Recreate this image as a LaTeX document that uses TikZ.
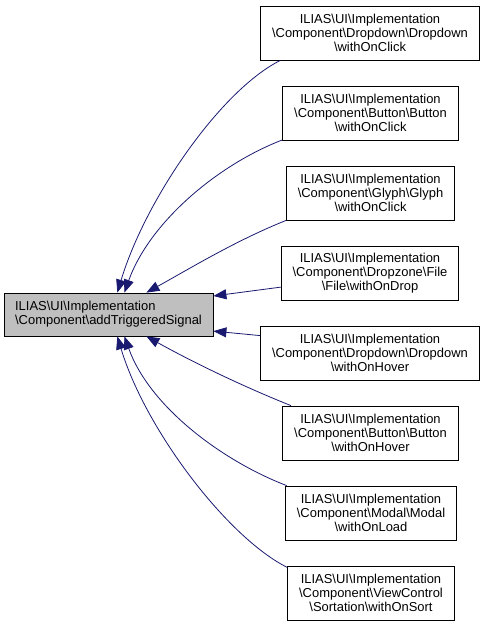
\documentclass[tikz,border=0pt]{standalone}
\usepackage{fontspec}
\setmainfont{Liberation Sans}
\usetikzlibrary{arrows.meta}
\newcommand{\bsl}{\textbackslash}
\definecolor{edgeblue}{HTML}{191970}
\definecolor{currentfill}{HTML}{BFBFBF}
\tikzset{
  member/.style={draw=black, line width=0.8bp, fill=white, align=center,
    inner xsep=11.5bp, inner ysep=0pt, minimum height=54bp,
    font=\fontsize{13}{14.3}\selectfont},
  current/.style={member, fill=currentfill, align=left, inner xsep=11bp,
    minimum height=43bp, minimum width=209bp},
  uses/.style={draw=edgeblue, line width=0.8bp, -{Triangle[length=13bp,width=10bp]}}
}
\begin{document}
\begin{tikzpicture}[x=1bp,y=1bp]
  \useasboundingbox (0,0) rectangle (485,627);
  \node[current] (signal) at (108.5,312.5) {ILIAS\bsl UI\bsl Implementation\\\bsl Component\bsl addTriggeredSignal}; % the method itself
  \node[member] (clickdd) at (370,594) {ILIAS\bsl UI\bsl Implementation\\\bsl Component\bsl Dropdown\bsl Dropdown\\\bsl withOnClick}; % callers
  \node[member] (clickbtn) at (370.5,514) {ILIAS\bsl UI\bsl Implementation\\\bsl Component\bsl Button\bsl Button\\\bsl withOnClick};
  \node[member] (clickglyph) at (370.5,434) {ILIAS\bsl UI\bsl Implementation\\\bsl Component\bsl Glyph\bsl Glyph\\\bsl withOnClick};
  \node[member] (dropfile) at (370,354) {ILIAS\bsl UI\bsl Implementation\\\bsl Component\bsl Dropzone\bsl File\\\bsl File\bsl withOnDrop};
  \node[member] (hoverdd) at (370,274) {ILIAS\bsl UI\bsl Implementation\\\bsl Component\bsl Dropdown\bsl Dropdown\\\bsl withOnHover};
  \node[member] (hoverbtn) at (370.5,194) {ILIAS\bsl UI\bsl Implementation\\\bsl Component\bsl Button\bsl Button\\\bsl withOnHover};
  \node[member] (loadmodal) at (371,114) {ILIAS\bsl UI\bsl Implementation\\\bsl Component\bsl Modal\bsl Modal\\\bsl withOnLoad};
  \node[member] (sortview) at (371,34) {ILIAS\bsl UI\bsl Implementation\\\bsl Component\bsl ViewControl\\\bsl Sortation\bsl withOnSort};
  % call edges
  \draw[uses] (clickdd.197) .. controls +(-60,-30) and +(28,93) .. (signal.68);
  \draw[uses] (clickbtn.197) .. controls +(-65,-25) and +(25,70) .. (signal.54);
  \draw[uses] (clickglyph.198) .. controls +(-50,-20) and +(45,25) .. (signal.30);
  \draw[uses] (dropfile.189) -- (signal.10);
  \draw[uses] (hoverdd.171) -- (signal.351);
  \draw[uses] (hoverbtn.161) .. controls +(-50,20) and +(45,-25) .. (signal.330);
  \draw[uses] (loadmodal.162) .. controls +(-65,25) and +(25,-70) .. (signal.306);
  \draw[uses] (sortview.163) .. controls +(-60,30) and +(28,-93) .. (signal.292);
\end{tikzpicture}
\end{document}
